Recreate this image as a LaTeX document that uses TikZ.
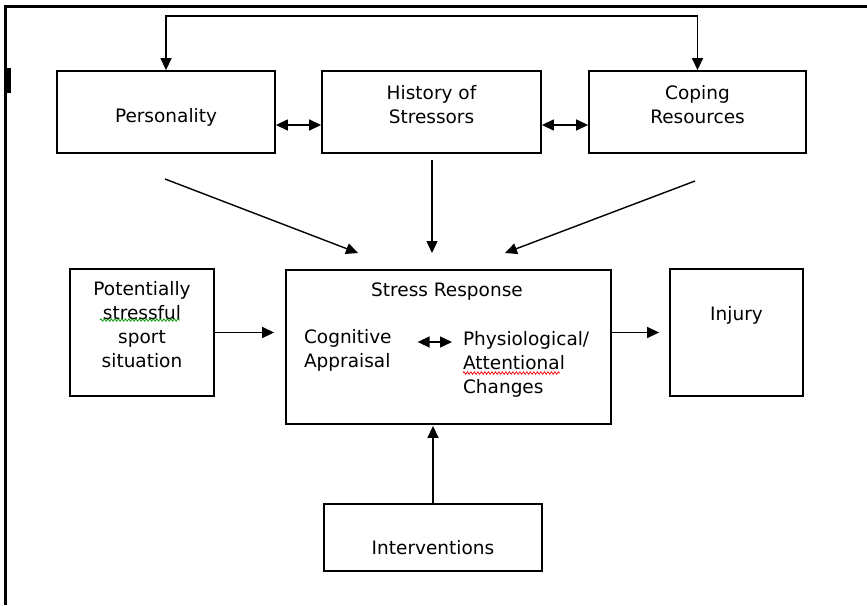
\documentclass[tikz,border=0pt]{standalone}
\usepackage{fontspec}
\setmainfont{DejaVu Sans}
\usetikzlibrary{arrows.meta, decorations.pathmorphing}

\begin{document}
\begin{tikzpicture}[x=1pt, y=-1pt, >={Triangle[length=12pt, width=11pt]}, line width=1.4pt,
        font=\fontsize{18.5}{24}\selectfont,
        box/.style={draw, line width=1.8pt, inner sep=0pt},
        squiggle/.style={line width=0.7pt, decorate, decoration={zigzag, amplitude=1.3pt, segment length=3.5pt}}]
                \useasboundingbox (0,0) rectangle (867,605);
                \draw[line width=3pt] (867,6) -- (5,6) -- (5,605);
                \fill (7,68) rectangle (11,93);
                % boxes
                \node[box, minimum width=218, minimum height=82] (pers) at (166, 112) {};
                \node[box, minimum width=219, minimum height=82] (hist) at (431.5, 112) {};
                \node[box, minimum width=217, minimum height=82] (cope) at (697.5, 112) {};
                \node[box, minimum width=144, minimum height=127] (pot) at (142, 332.5) {};
                \node[box, minimum width=325, minimum height=154] (stress) at (448.5, 347) {};
                \node[box, minimum width=133, minimum height=127] (inj) at (736.5, 332.5) {};
                \node[box, minimum width=218, minimum height=67] (intv) at (433, 537.5) {};
                % texts
                \node (perstxt) at (166, 117) {Personality};
                \node[align=center] (histtxt) at (431.5, 104.5) {History of\\Stressors};
                \node[align=center] (copetxt) at (697.5, 104.5) {Coping\\Resources};
                \node[align=center] (pottxt) at (142, 325) {Potentially\\stressful\\sport\\situation};
                \node (stresstxt) at (447, 292) {Stress Response};
                \node[align=left, anchor=west] (cogn) at (300, 350) {Cognitive\\Appraisal};
                \node[align=left, anchor=west] (phys) at (459, 364) {Physiological/\\Attentional\\Changes};
                \node (injtxt) at (736.5, 315) {Injury};
                \node (intvtxt) at (433, 548) {Interventions};
                \draw[squiggle, green!60!black] (100, 320) -- (180, 320);
                \draw[squiggle, red] (463, 373) -- (560, 373);
                % free ends of the slanted arrows
                \coordinate (p0) at (165, 179);
                \coordinate (p1) at (358, 253);
                \coordinate (h0) at (432, 160);
                \coordinate (h1) at (432, 253);
                \coordinate (c0) at (695, 181);
                \coordinate (c1) at (505, 253);
                \draw[<->] (pers.north) -- ++(0, -54) -| (cope.north);
                \draw[<->] ([yshift=-13pt]pers.east) -- ([yshift=-13pt]hist.west);
                \draw[<->] ([yshift=-13pt]hist.east) -- ([yshift=-13pt]cope.west);
                \path[->] (p0) edge (p1)
                          (h0) edge (h1)
                          (c0) edge (c1);
                \draw[->, shorten >=11pt] (pot.east) -- (pot.east -| stress.west);
                \draw[->, shorten >=10pt] (inj.west -| stress.east) -- (inj.west);
                \draw[<->, shorten <=22pt, shorten >=7pt] ([yshift=8pt]cogn.east) -- ([yshift=8pt]cogn.east -| phys.west);
                \draw[->, shorten >=1pt] (intv.north) -- (intv.north |- stress.south);
            \end{tikzpicture}
\end{document}
